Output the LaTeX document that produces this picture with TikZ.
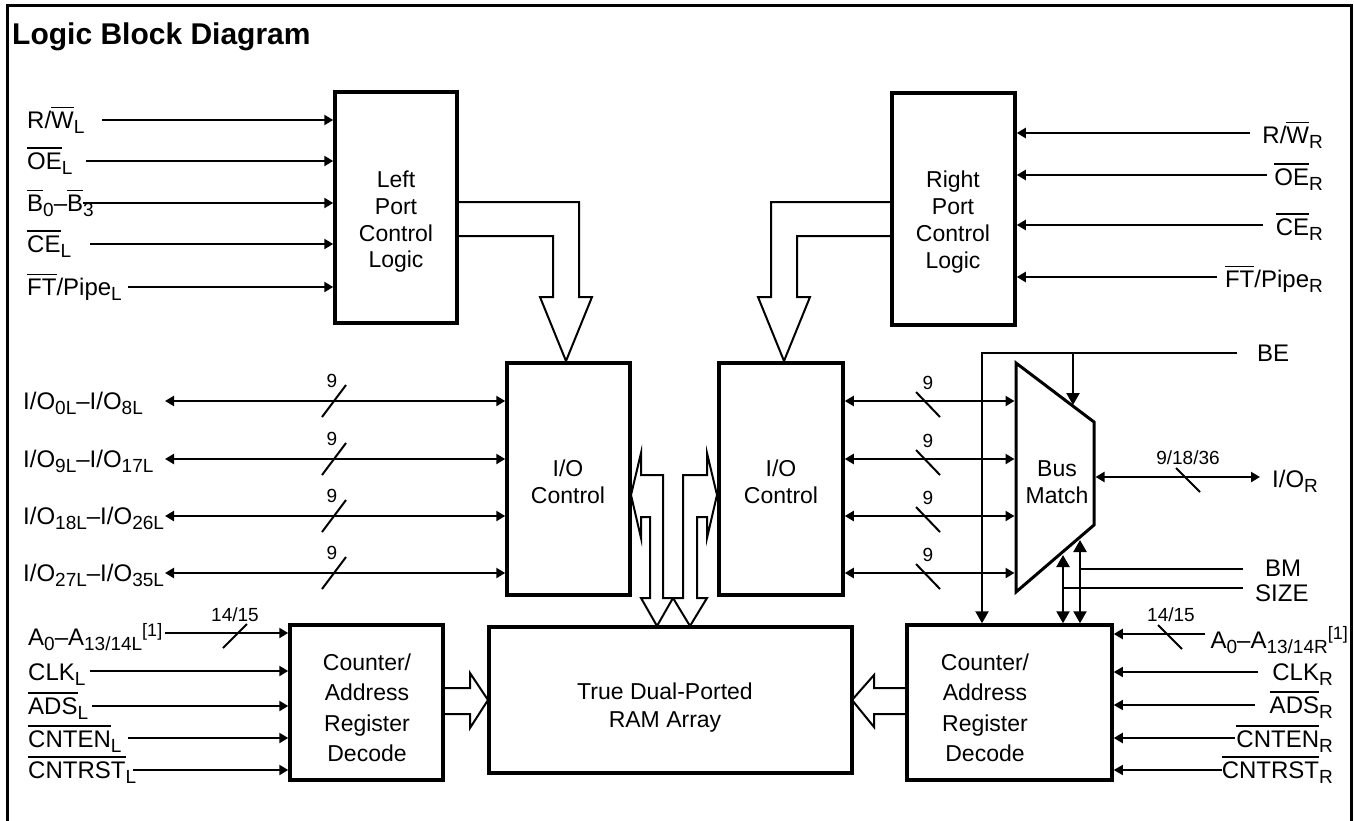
\documentclass[tikz,border=0pt]{standalone}
\usepackage{fontspec}
\setmainfont{Liberation Sans}
\usetikzlibrary{arrows.meta}
\newcommand\ovl[1]{\vbox{\hrule height 1.4pt\kern 3.5pt\hbox{#1}}}
\newcommand\sbs[1]{\raisebox{-5.5pt}{\fontsize{19}{19}\selectfont #1}}
\newcommand\sps[1]{\raisebox{9pt}{\fontsize{18}{18}\selectfont #1}}
\newcommand\lblfont{\fontsize{24}{28}\selectfont}
\newcommand\numfont{\fontsize{19}{22}\selectfont}
\newcommand\ttlfont{\fontsize{30}{34}\selectfont\bfseries}
\tikzset{
  blk/.style={draw, line width=3.5pt, inner sep=0pt},
  sig/.style={line width=2.3pt, -{Triangle[length=9pt,width=10pt]}},
  bid/.style={line width=2.3pt, {Triangle[length=9pt,width=10pt]}-{Triangle[length=9pt,width=10pt]}},
  thinsig/.style={line width=1.3pt, -{Triangle[length=9pt,width=10pt]}},
  bigsig/.style={line width=2.3pt, -{Triangle[length=12pt,width=13pt]}},
  bigbid/.style={line width=2.3pt, {Triangle[length=12pt,width=13pt]}-{Triangle[length=12pt,width=13pt]}},
  plain/.style={line width=2.3pt},
  hol/.style={line width=2pt, line join=miter},
  sl/.style={line width=2pt},
  lbl/.style={inner sep=0pt, font=\lblfont},
  num/.style={inner sep=0pt, font=\numfont},
  btxt/.style={align=center, inner sep=0pt},
}
\begin{document}
\begin{tikzpicture}[x=1pt,y=-1pt]
\useasboundingbox (0,0) rectangle (1354,820);
% frame and title
\draw[line width=3pt, line join=miter] (7,840) -- (7,5) -- (1351,5) -- (1351,840);
\node[anchor=base west, inner sep=0pt, font=\ttlfont] (title) at (12,44) {Logic Block Diagram};

% blocks
\node[blk, minimum width=122pt, minimum height=231pt] (lpc) at (396,207.5) {};
\node[blk, minimum width=123pt, minimum height=232pt] (rpc) at (953.5,209) {};
\node[blk, minimum width=123pt, minimum height=232pt] (lio) at (568.5,479) {};
\node[blk, minimum width=124pt, minimum height=232pt] (rio) at (781,479) {};
\node[blk, minimum width=153pt, minimum height=155pt] (lcnt) at (366.5,702.5) {};
\node[blk, minimum width=205pt, minimum height=155pt] (rcnt) at (1009.5,702.5) {};
\node[blk, minimum width=363pt, minimum height=146pt] (ram) at (670.5,700) {};
\draw[line width=3pt, line join=miter] (1016,363) -- (1094,422) -- (1094,525) -- (1016,592) -- cycle;

% block texts
\node[btxt, font=\fontsize{23}{26.7}\selectfont] (lpct) at (396,222) {Left\\Port\\Control\\Logic};
\node[btxt, font=\fontsize{23}{26.7}\selectfont] (rpct) at (953,222) {Right\\Port\\Control\\Logic};
\node[btxt, font=\fontsize{23}{27}\selectfont] (liot) at (568,482) {I/O\\Control};
\node[btxt, font=\fontsize{23}{27}\selectfont] (riot) at (781,482) {I/O\\Control};
\node[btxt, font=\fontsize{23}{27}\selectfont] (bmt) at (1057,482) {Bus\\Match};
\node[btxt, font=\fontsize{23}{30.5}\selectfont] (lcntt) at (367,708) {Counter/\\Address\\Register\\Decode};
\node[btxt, font=\fontsize{23}{30.5}\selectfont] (rcntt) at (985,708) {Counter/\\Address\\Register\\Decode};
\node[btxt, font=\fontsize{23}{28}\selectfont] (ramt) at (665,708) {True Dual-Ported\\RAM Array};

% left port inputs
\node[lbl, anchor=base west] (lrw) at (27,128) {R/\ovl{W}\sbs{L}};
\node[lbl, anchor=base west] (loe) at (27,169) {\ovl{OE}\sbs{L}};
\node[lbl, anchor=base west] (lb)  at (27,211) {\ovl{B}\sbs{0}–\ovl{B}\sbs{3}};
\node[lbl, anchor=base west] (lce) at (27,252) {\ovl{CE}\sbs{L}};
\node[lbl, anchor=base west] (lft) at (27,295) {\ovl{FT}/Pipe\sbs{L}};
\coordinate (a1) at (102,120);
\coordinate (a2) at (86,161);
\coordinate (a3) at (83,203);
\coordinate (a4) at (90,244);
\coordinate (a5) at (128,287);
\foreach \c in {a1,a2,a3,a4,a5} \draw[sig] (\c) -- (\c -| lpc.west);

% right port inputs
\node[lbl, anchor=base east] (rrw) at (1323,143) {R/\ovl{W}\sbs{R}};
\node[lbl, anchor=base east] (roe) at (1323,185) {\ovl{OE}\sbs{R}};
\node[lbl, anchor=base east] (rce) at (1323,235) {\ovl{CE}\sbs{R}};
\node[lbl, anchor=base east] (rft) at (1323,287) {\ovl{FT}/Pipe\sbs{R}};
\coordinate (b1) at (1250,133);
\coordinate (b2) at (1267,175);
\coordinate (b3) at (1263,225);
\coordinate (b4) at (1217,277);
\foreach \c in {b1,b2,b3,b4} \draw[sig] (\c) -- (\c -| rpc.east);

% hollow arrows from port control to I/O control
\draw[hol] (lpc.east |- 0,202) -- (579,202) -- (579,297) -- (592,297) -- (566,361) -- (540,297) -- (553,297) -- (553,236) -- (lpc.east |- 0,236);
\draw[hol] (rpc.west |- 0,202) -- (771,202) -- (771,297) -- (758,297) -- (784,361) -- (810,297) -- (797,297) -- (797,236) -- (rpc.west |- 0,236);

% left I/O buses
\node[lbl, anchor=base west] (io1) at (23,409) {I/O\sbs{0L}–I/O\sbs{8L}};
\node[lbl, anchor=base west] (io2) at (23,467) {I/O\sbs{9L}–I/O\sbs{17L}};
\node[lbl, anchor=base west] (io3) at (23,524) {I/O\sbs{18L}–I/O\sbs{26L}};
\node[lbl, anchor=base west] (io4) at (23,581) {I/O\sbs{27L}–I/O\sbs{35L}};
\coordinate (bmw) at (1014.5,480);
\foreach \y [count=\i] in {401,459,516,573} {
  \coordinate (e\i) at (165,\y);
  \draw[bid] (e\i) -- (e\i -| lio.west);
  \draw[sl] (322,\y+16) -- (346,\y-16);
  \node[num] at (332,\y-20) {9};
  \draw[bid] (rio.east |- e\i) -- (bmw |- e\i);
  \draw[sl] (916,\y-9) -- (940,\y+16);
  \node[num] at (928,\y-18) {9};
}

% central bidirectional hollow arrows
\draw[hol] (663,598) -- (663,475) -- (641,475) -- (641,453) -- (631,495) -- (641,538) -- (641,517) -- (650,517) -- (650,598) -- (641,598) -- (657,626) -- (673,598) -- cycle;
\draw[hol] (683,598) -- (683,475) -- (707,475) -- (707,453) -- (717,495) -- (707,538) -- (707,517) -- (697,517) -- (697,598) -- (707,598) -- (690,626) -- (673,598) -- cycle;

% BE
\coordinate (be) at (1237,353);
\coordinate (bec) at (982,353);
\coordinate (bej) at (1073,353);
\draw[bigsig, line join=miter] (be) -- (bec) -- (bec |- rcnt.north);
\draw[bigsig] (bej) -- (1073,405);
\node[lbl, anchor=base west] (bel) at (1257,361) {BE};

% I/O R
\coordinate (ior) at (1260,477);
\draw[bid] (1095.5,477) -- (ior);
\draw[sl] (1176,468) -- (1200,492);
\node[num] at (1188,458) {9/18/36};
\node[lbl, anchor=base west] (iorl) at (1272,487) {I/O\sbs{R}};

% BM, SIZE
\coordinate (bmv) at (1080,540);
\coordinate (szv) at (1063,555);
\draw[bigbid] (bmv) -- (bmv |- rcnt.north);
\draw[bigbid] (szv) -- (szv |- rcnt.north);
\draw[plain] (1080,569) -- (1243,569);
\draw[plain] (1063,588) -- (1243,588);
\node[lbl, anchor=base west] (bml) at (1265,576) {BM};
\node[lbl, anchor=base west] (szl) at (1255,601) {SIZE};

% left counter inputs
\node[lbl, anchor=base west] (la) at (28,645) {A\sbs{0}–A\sbs{13/14L}\sps{[1]}};
\node[lbl, anchor=base west] (lclk) at (28,680) {CLK\sbs{L}};
\node[lbl, anchor=base west] (lads) at (28,714) {\ovl{ADS}\sbs{L}};
\node[lbl, anchor=base west] (lcnten) at (28,747) {\ovl{CNTEN}\sbs{L}};
\node[lbl, anchor=base west] (lcntrst) at (28,778) {\ovl{CNTRST}\sbs{L}};
\coordinate (g1) at (165,633);
\coordinate (g2) at (90,671);
\coordinate (g3) at (92,706);
\coordinate (g4) at (128,738);
\coordinate (g5) at (133,770);
\foreach \c in {g1,g2,g3,g4,g5} \draw[sig] (\c) -- (\c -| lcnt.west);
\draw[sl] (223,648) -- (247,624);
\node[num] at (235,615) {14/15};

% right counter inputs
\node[lbl, anchor=base east] (ra) at (1348,648) {A\sbs{0}–A\sbs{13/14R}\sps{[1]}};
\node[lbl, anchor=base east] (rclk) at (1333,680) {CLK\sbs{R}};
\node[lbl, anchor=base east] (rads) at (1333,713) {\ovl{ADS}\sbs{R}};
\node[lbl, anchor=base east] (rcnten) at (1333,747) {\ovl{CNTEN}\sbs{R}};
\node[lbl, anchor=base east] (rcntrst) at (1333,778) {\ovl{CNTRST}\sbs{R}};
\coordinate (h1) at (1205,634);
\coordinate (h2) at (1258,672);
\coordinate (h3) at (1255,705);
\coordinate (h4) at (1235,738);
\coordinate (h5) at (1222,770);
\draw[sig] (h1) -- (h1 -| rcnt.east);
\draw[thinsig] (h2) -- (h2 -| rcnt.east);
\draw[thinsig] (h3) -- (h3 -| rcnt.east);
\draw[sig] (h4) -- (h4 -| rcnt.east);
\draw[thinsig] (h5) -- (h5 -| rcnt.east);
\draw[sl] (1158,625) -- (1182,649);
\node[num] at (1171,615) {14/15};

% counters to RAM
\draw[hol] (lcnt.east |- 0,688) -- (470,688) -- (470,673) -- (488,700) -- (470,728) -- (470,714) -- (lcnt.east |- 0,714);
\draw[hol] (rcnt.west |- 0,688) -- (874,688) -- (874,675) -- (852,700) -- (874,727) -- (874,714) -- (rcnt.west |- 0,714);
\end{tikzpicture}
\end{document}
